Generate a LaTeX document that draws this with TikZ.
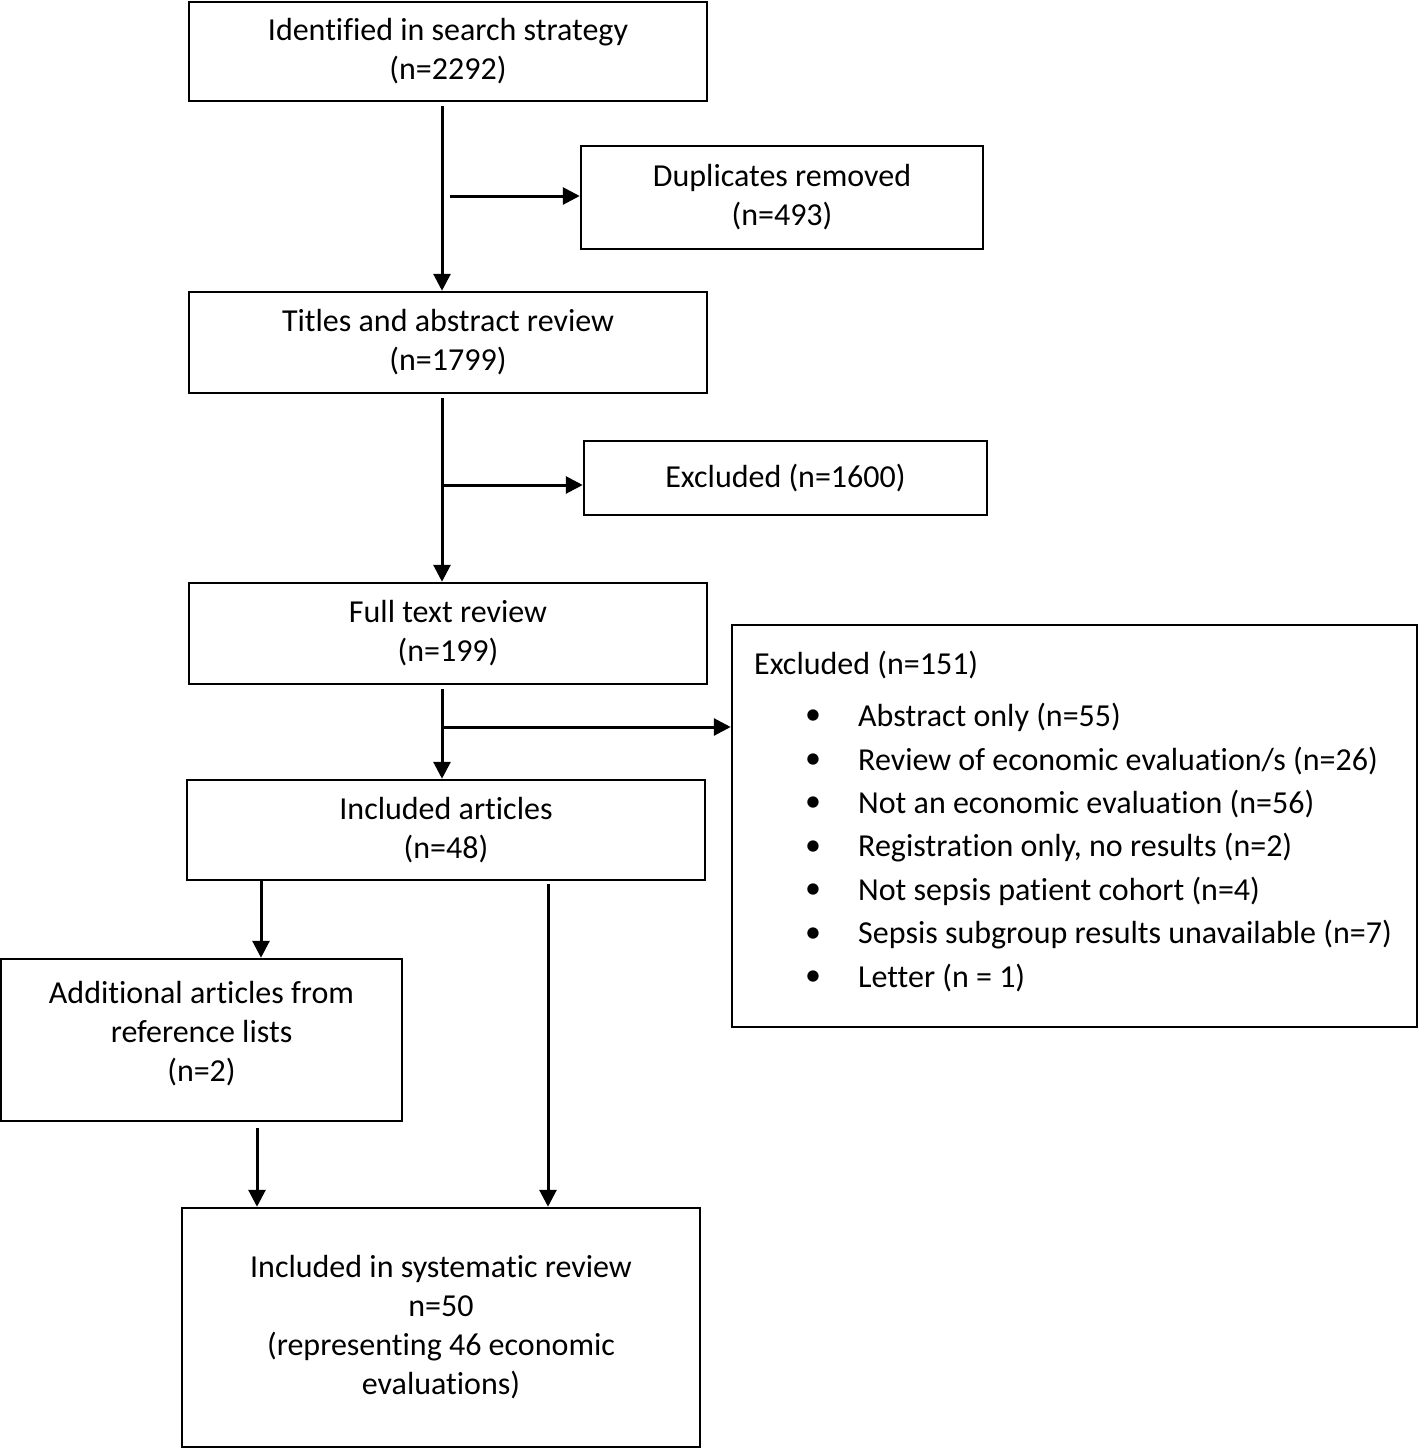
\documentclass[tikz,border=0pt]{standalone}
\usepackage{fontspec}
\setmainfont[Ligatures=NoCommon]{Carlito}
\usetikzlibrary{arrows.meta}
\begin{document}
\begin{tikzpicture}[x=1pt,y=-1pt,
  box/.style={draw=black, line width=2.5pt, align=center, inner sep=0pt,
    font=\fontsize{32}{39}\selectfont},
  arr/.style={line width=3pt, -{Triangle[length=17pt,width=17pt]}},
  txt/.style={inner sep=0pt, anchor=west, font=\fontsize{32}{39}\selectfont}]
\useasboundingbox (0,0) rectangle (1418,1449);
\node[box, minimum width=518pt, minimum height=99pt] (id) at (448,51.5) {Identified in search strategy\\(n=2292)};
\node[box, minimum width=402pt, minimum height=103pt] (dup) at (782,197.5) {Duplicates removed\\(n=493)};
\node[box, minimum width=518pt, minimum height=101pt] (ti) at (448,342.5) {Titles and abstract review\\(n=1799)};
\node[box, minimum width=403pt, minimum height=74pt] (ex1) at (785.5,478) {Excluded (n=1600)};
\node[box, minimum width=518pt, minimum height=101pt] (ft) at (448,633.5) {Full text review\\(n=199)};
\node[box, minimum width=685pt, minimum height=402pt] (ex2) at (1074.5,826) {};
\node[box, minimum width=518pt, minimum height=100pt] (inc) at (446,830) {Included articles\\(n=48)};
\node[box, minimum width=401pt, minimum height=162pt] (add) at (201.5,1040) {Additional articles from\\reference lists\\(n=2)\rule[-18pt]{0pt}{0pt}};
\node[box, minimum width=518pt, minimum height=239pt] (fin) at (441,1327.5) {Included in systematic review\\n=50\\(representing 46 economic\\evaluations)};
% list in excluded box
\node[txt] (h) at (754,665) {Excluded (n=151)};
\foreach \y/\t [count=\i] in {717/{Abstract only (n=55)},761/{Review of economic evaluation/s (n=26)},804/{Not an economic evaluation (n=56)},848/{Registration only, no results (n=2)},891/{Not sepsis patient cohort (n=4)},935/{Sepsis subgroup results unavailable (n=7)},978/{Letter (n = 1)}}{
  \node[txt] (b\i) at (805,\y) {•};
  \node[txt] (t\i) at (858,\y) {\t};
}
% connectors
\draw[arr, shorten <=4pt] (id.south -| 442,0) -- (ti.north -| 442,0);
\coordinate (br1) at (450,196);
\draw[arr] (br1) -- (br1 -| dup.west);
\draw[arr, shorten <=4pt] (ti.south -| 442,0) -- (ft.north -| 442,0);
\coordinate (br2) at (442,485);
\draw[arr] (br2) -- (br2 -| ex1.west);
\draw[arr, shorten <=4pt] (ft.south -| 442,0) -- (inc.north -| 442,0);
\coordinate (br3) at (442,727);
\draw[arr] (br3) -- (br3 -| ex2.west);
\draw[arr] (inc.south -| 261,0) -- (add.north -| 261,0);
\draw[arr, shorten <=3pt] (inc.south -| 548,0) -- (fin.north -| 548,0);
\draw[arr, shorten <=6pt] (add.south -| 257,0) -- (fin.north -| 257,0);
\end{tikzpicture}
\end{document}
